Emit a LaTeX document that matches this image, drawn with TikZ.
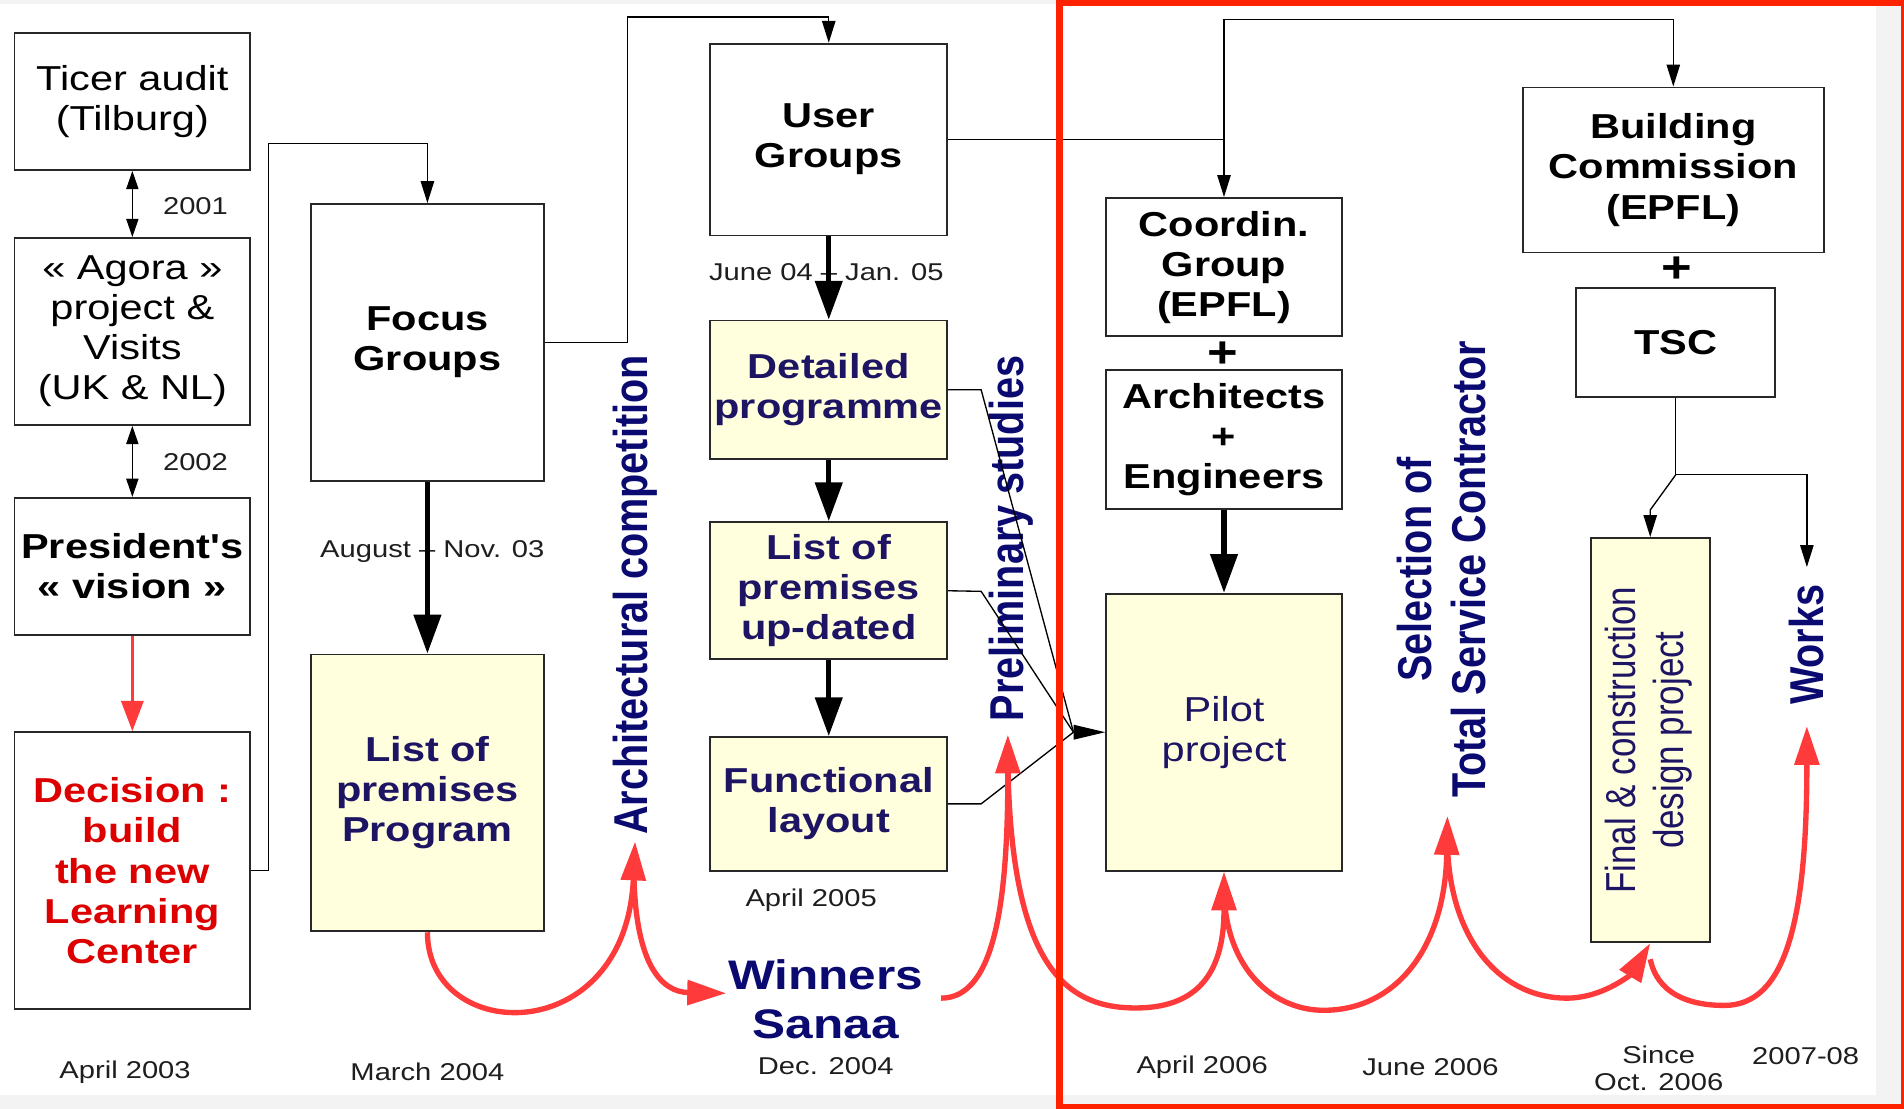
\documentclass[tikz,border=0pt]{standalone}
\usepackage{fontspec}
\usepackage{graphicx}
\setmainfont{Liberation Sans}[FakeStretch=1.2]
\newfontfamily\rotfont{Liberation Sans}
\usetikzlibrary{arrows.meta}
\definecolor{bggray}{RGB}{243,243,243}
\definecolor{framered}{RGB}{255,34,0}
\definecolor{redc}{RGB}{255,58,58}
\definecolor{decred}{RGB}{220,0,0}
\definecolor{boxnavy}{RGB}{30,20,100}
\definecolor{navy}{RGB}{10,10,112}
\definecolor{yel}{RGB}{255,255,221}
\definecolor{edge}{RGB}{40,40,40}
\definecolor{dategray}{RGB}{30,30,30}
\newcommand\boxfont{\fontsize{14.25pt}{16.5pt}\selectfont}
\newcommand\datefont{\fontsize{10pt}{11pt}\selectfont}
\newcommand\rotsize{\fontsize{16.3pt}{18.75pt}\selectfont}
\tikzset{
  box/.style={draw=edge, line width=0.75pt, inner sep=0pt, align=center, font=\boxfont, fill=white},
  ybox/.style={box, fill=yel, text=boxnavy},
  bf/.style={font=\boxfont\bfseries},
  thinarr/.style={draw=black, line width=0.55pt, -{Triangle[length=9pt,width=5.5pt]}},
  thinline/.style={draw=black, line width=0.55pt},
  dblarr/.style={draw=black, line width=0.55pt, {Triangle[length=7.5pt,width=5pt]}-{Triangle[length=7.5pt,width=5pt]}},
  thickarr/.style={draw=black, line width=2.2pt, -{Triangle[length=16pt,width=11pt]}},
  redarr/.style={draw=redc, line width=2.2pt, -{Triangle[length=16pt,width=10pt]}},
  redline/.style={draw=redc, line width=2.2pt},
  datelbl/.style={font=\datefont, text=dategray, align=center, inner sep=0pt},
  rottext/.style={rotate=90, inner sep=0pt, text=navy},
  plus/.style={font=\bfseries\fontsize{18pt}{18pt}\selectfont, inner sep=0pt},
}
\begin{document}
\begin{tikzpicture}[x=0.5pt,y=-0.5pt]
\useasboundingbox (0,0) rectangle (1568,913);
\fill[bggray] (0,0) rectangle (1568,913);
\fill[white] (0,3) rectangle (1545,902);

% ---- boxes ----
\node[box, minimum width=97pt, minimum height=56.5pt] (ticer) at (109,83.5) {Ticer audit\\(Tilburg)};
\node[box, minimum width=97pt, minimum height=77pt] (agora) at (109,273) {«~Agora~»\\project \&\\Visits\\(UK \& NL)};
\node[box, bf, minimum width=97pt, minimum height=56.5pt] (pres) at (109,466.5) {{\addfontfeatures{Ligatures=TeXOff}President's}\\«~vision~»};
\node[box, bf, text=decred, minimum width=97pt, minimum height=114pt] (dec) at (109,717) {Decision :\\build\\the new\\Learning\\Center};
\node[box, bf, minimum width=96pt, minimum height=114pt] (focus) at (352,282) {Focus\\Groups};
\node[ybox, bf, minimum width=96pt, minimum height=114pt] (lop) at (352,653) {List of\\premises\\Program};
\node[box, bf, minimum width=97.5pt, minimum height=79pt] (user) at (682.5,115) {User\\Groups};
\node[ybox, bf, minimum width=97.5pt, minimum height=57pt] (det) at (682.5,321) {Detailed\\programme};
\node[ybox, bf, minimum width=97.5pt, minimum height=56.5pt] (lpu) at (682.5,486.5) {List of\\premises\\up-dated};
\node[ybox, bf, minimum width=97.5pt, minimum height=55pt] (func) at (682.5,662) {Functional\\layout};
\node[box, bf, minimum width=97pt, minimum height=57pt] (coord) at (1008,220) {Coordin.\\Group\\(EPFL)};
\node[box, bf, minimum width=97pt, minimum height=57pt] (arch) at (1008,362) {Architects\\+\\Engineers};
\node[ybox, minimum width=97pt, minimum height=114pt] (pilot) at (1008,603) {Pilot\\project};
\node[box, bf, minimum width=124pt, minimum height=68pt] (build) at (1378,140) {Building\\Commission\\(EPFL)};
\node[box, bf, minimum width=82pt, minimum height=45pt] (tsc) at (1380,282) {TSC};
\node[ybox, minimum width=49pt, minimum height=166.5pt] (final) at (1359,609.5) {};
\node[rotate=90, inner sep=0pt, text=boxnavy] (finaltxt) at (final.center) {\scalebox{1}[1.2]{\rotfont\fontsize{14.4pt}{16.5pt}\selectfont\begin{tabular}{@{}c@{}}Final \& construction\\design project\end{tabular}}};

\node[plus] (plus1) at (1007,292) {+};
\node[plus] (plus2) at (1381,222) {+};

% ---- rotated phase labels ----
\node[rottext] (archcomp) at (523,490) {\scalebox{1}[1.2]{\rotfont\bfseries\rotsize Architectural competition}};
\node[rottext] (prelim) at (833,443.5) {\scalebox{1}[1.2]{\rotfont\bfseries\rotsize Preliminary studies}};
\node[rottext] (tscsel) at (1192,469) {\scalebox{1}[1.2]{\rotfont\bfseries\rotsize\begin{tabular}{@{}c@{}}Selection of\\Total Service Contractor\end{tabular}}};
\node[rottext] (works) at (1488,531) {\scalebox{1}[1.2]{\rotfont\bfseries\rotsize Works}};
\node[font=\bfseries\fontsize{17pt}{20pt}\selectfont, text=navy, align=center, inner sep=0pt] (winners) at (680,823) {Winners\\Sanaa};

% ---- dates ----
\node[datelbl] (d2001) at (161,170) {2001};
\node[datelbl] (d2002) at (161,381) {2002};
\node[datelbl] (daug) at (356,454) {August – Nov. 03};
\node[datelbl] (djune) at (680.5,224) {June 04 – Jan. 05};
\node[datelbl] (dapr03) at (103,883) {April 2003};
\node[datelbl] (dmar04) at (352,883) {March 2004};
\node[datelbl] (dapr05) at (668,741) {April 2005};
\node[datelbl] (ddec04) at (680,878) {Dec. 2004};
\node[datelbl] (dapr06) at (990,879) {April 2006};
\node[datelbl] (djun06) at (1178,879) {June 2006};
\node[datelbl] (doct06) at (1366,880) {Since\\Oct. 2006};
\node[datelbl] (d0708) at (1487,870) {2007-08};

% ---- black connectors ----
\draw[dblarr] (ticer) -- (agora);
\draw[dblarr] (agora) -- (pres);
\draw[draw=redc, line width=1.5pt, -{Triangle[length=12.5pt,width=9pt]}] (pres) -- (dec);

\coordinate (c1) at (221,118);
\draw[thinarr] (dec.east) -| (c1) -| (focus.north);
\coordinate (c2) at (517,14);
\draw[thinarr] (focus.east) -| (c2) -| (user.north);
\draw[thinarr] (user.east) -| (coord.north);
\coordinate (c3) at (1008,16);
\draw[thinarr] (coord.north |- user.east) -- (c3) -| (build.north);

\draw[thickarr] (focus) -- (lop);
\draw[thickarr] (user) -- (det);
\draw[thickarr] (det) -- (lpu);
\draw[thickarr] (lpu) -- (func);
\draw[thickarr] (arch) -- (pilot);

\coordinate (conv) at (884,603);
\coordinate (kd) at (808,321);
\coordinate (kl) at (808,487);
\coordinate (kf) at (808,662);
\draw[thinline] (det.east) -- (kd) -- (conv);
\draw[thinline] (lpu.east) -- (kl) -- (conv);
\draw[thinline] (func.east) -- (kf) -- (conv);
\draw[draw=black, line width=0.55pt, -{Triangle[length=13pt,width=6pt]}] (conv) -- (pilot.west);

\coordinate (tj) at (1380,391);
\coordinate (tk) at (1359,420);
\coordinate (wk) at (1488,467);
\draw[thinarr] (tsc.south) -- (tj) -| (wk);
\draw[thinarr] (tj) -- (tk) -- (final.north);

% ---- red timeline curves ----
\coordinate (r1) at (523,693);
\coordinate (r1b) at (522,718);
\coordinate (r2) at (598,818);
\coordinate (r3s) at (775,822);
\coordinate (r3) at (830,605);
\coordinate (r3b) at (830,630);
\coordinate (pilb) at (1008,735);
\coordinate (r5) at (1192,672);
\coordinate (r5b) at (1192,697);
\coordinate (finb) at (1359,790);
\coordinate (r7) at (1488,598);
\draw[redarr] (lop.south) .. controls (352,860) and (515,865) .. (r1);
\draw[redarr] (r1b) .. controls (523,795) and (545,817) .. (r2);
\draw[redarr] (r3s) .. controls (820,822) and (830,740) .. (r3);
\draw[redarr] (r3b) .. controls (833,800) and (880,832) .. (940,830) .. controls (995,828) and (1008,790) .. (pilot.south);
\draw[redarr] (pilb) .. controls (1010,800) and (1050,832) .. (1090,832) .. controls (1150,832) and (1190,780) .. (r5);
\draw[redarr] (r5b) .. controls (1195,780) and (1240,822) .. (1290,822) .. controls (1322,822) and (1345,800) .. (final.south);
\draw[redarr] (finb) .. controls (1365,818) and (1390,828) .. (1420,828) .. controls (1470,828) and (1488,760) .. (r7);

% ---- red frame ----
\draw[framered, line width=2.5pt] (872.5,2.75) rectangle (1568,911.5);
\end{tikzpicture}
\end{document}
